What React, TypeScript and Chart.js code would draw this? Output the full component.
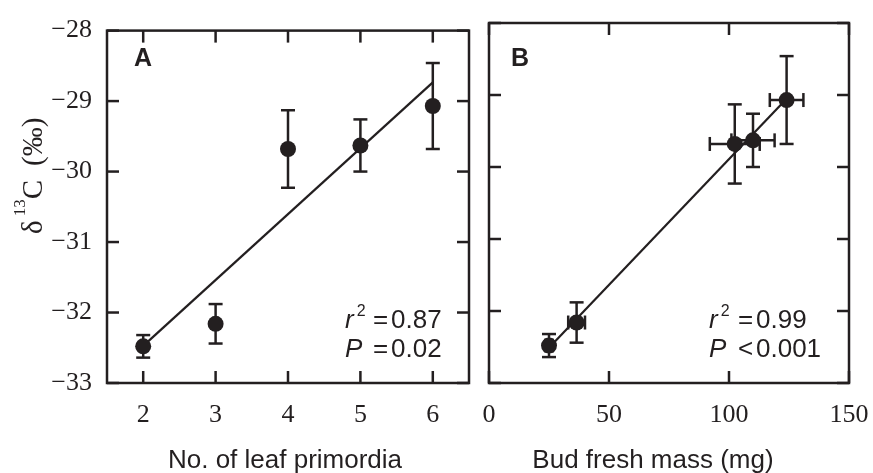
import React, { useEffect, useRef } from 'react';
import { Chart, registerables } from 'chart.js';

Chart.register(...registerables);

// ---- data ----
const leafPrimordia = [2, 3, 4, 5, 6];
const budFreshMass = [25, 36.5, 102.4, 110, 124];
const budFreshMassErr = [1.5, 3.5, 10.4, 9, 7];
const delta13C = [-32.48, -32.16, -29.68, -29.63, -29.07];
const delta13CErr = [0.16, 0.28, 0.55, 0.37, 0.61];

const leafTicks = [2, 3, 4, 5, 6];
const massTicks = [0, 50, 100, 150];
const deltaTicks = [-33, -32, -31, -30, -29, -28];

const statsA = { r2: '0.87', op: '=', p: '0.02' };
const statsB = { r2: '0.99', op: '<', p: '0.001' };

const INK = '#231f20';
const SERIF = "'Liberation Serif', 'Times New Roman', serif";
const SANS = "'Liberation Sans', Arial, Helvetica, sans-serif";

function fmt(v: number) {
  return v < 0 ? '\u2212' + Math.abs(v) : String(v);
}

function linFit(xs: number[], ys: number[]) {
  const n = xs.length;
  const mx = xs.reduce((a, b) => a + b, 0) / n;
  const my = ys.reduce((a, b) => a + b, 0) / n;
  let sxy = 0, sxx = 0;
  for (let i = 0; i < n; i++) {
    sxy += (xs[i] - mx) * (ys[i] - my);
    sxx += (xs[i] - mx) * (xs[i] - mx);
  }
  const b = sxy / sxx;
  const a = my - b * mx;
  const x0 = Math.min(...xs), x1 = Math.max(...xs);
  return [ { x: x0, y: a + b * x0 }, { x: x1, y: a + b * x1 } ];
}

function makeErrorBars(xs: number[], ys: number[], xErr: number[] | null, yErr: number[] | null) {
  return {
    id: 'errorBars',
    beforeDatasetsDraw(chart: any) {
      const { ctx } = chart;
      const x = chart.scales.x, y = chart.scales.y;
      const cap = 7;
      ctx.save();
      ctx.strokeStyle = INK;
      ctx.lineWidth = 2.5;
      const seg = (x1: number, y1: number, x2: number, y2: number) => {
        ctx.beginPath(); ctx.moveTo(x1, y1); ctx.lineTo(x2, y2); ctx.stroke();
      };
      for (let i = 0; i < xs.length; i++) {
        const px = x.getPixelForValue(xs[i]);
        const py = y.getPixelForValue(ys[i]);
        if (yErr) {
          const t = y.getPixelForValue(ys[i] + yErr[i]);
          const b = y.getPixelForValue(ys[i] - yErr[i]);
          seg(px, t, px, b);
          seg(px - cap, t, px + cap, t);
          seg(px - cap, b, px + cap, b);
        }
        if (xErr) {
          const l = x.getPixelForValue(xs[i] - xErr[i]);
          const r = x.getPixelForValue(xs[i] + xErr[i]);
          seg(l, py, r, py);
          seg(l, py - cap, l, py + cap);
          seg(r, py - cap, r, py + cap);
        }
      }
      ctx.restore();
    },
  };
}

const framePlugin = {
  id: 'frame',
  afterDatasetsDraw(chart: any) {
    const { ctx, chartArea: a } = chart;
    const x = chart.scales.x, y = chart.scales.y;
    const tl = 12;
    ctx.save();
    ctx.strokeStyle = INK;
    ctx.lineWidth = 2.5;
    ctx.strokeRect(a.left, a.top, a.right - a.left, a.bottom - a.top);
    const seg = (x1: number, y1: number, x2: number, y2: number) => {
      ctx.beginPath(); ctx.moveTo(x1, y1); ctx.lineTo(x2, y2); ctx.stroke();
    };
    x.ticks.forEach((t: any) => {
      const px = x.getPixelForValue(t.value);
      seg(px, a.bottom, px, a.bottom - tl);
      seg(px, a.top, px, a.top + tl);
    });
    y.ticks.forEach((t: any) => {
      const py = y.getPixelForValue(t.value);
      seg(a.left, py, a.left + tl, py);
      seg(a.right, py, a.right - tl, py);
    });
    ctx.restore();
  },
};

type Run = { text: string; font: string; dy?: number; dx?: number };
type TextItem = { x: number; y: number; runs: Run[]; align?: 'left' | 'center'; rotate?: boolean };

function makeTexts(items: TextItem[]) {
  return {
    id: 'texts',
    afterDraw(chart: any) {
      const ctx = chart.ctx;
      ctx.save();
      ctx.fillStyle = INK;
      ctx.textBaseline = 'alphabetic';
      ctx.textAlign = 'left';
      items.forEach((it) => {
        let total = 0;
        it.runs.forEach((r) => {
          ctx.font = r.font;
          total += (r.dx || 0) + ctx.measureText(r.text).width;
        });
        ctx.save();
        ctx.translate(it.x, it.y);
        if (it.rotate) ctx.rotate(-Math.PI / 2);
        let cx = it.align === 'center' ? -total / 2 : 0;
        it.runs.forEach((r) => {
          ctx.font = r.font;
          cx += r.dx || 0;
          ctx.fillText(r.text, cx, r.dy || 0);
          cx += ctx.measureText(r.text).width;
        });
        ctx.restore();
      });
      ctx.restore();
    },
  };
}

function buildChart(canvas: HTMLCanvasElement, p: any) {
  const points = p.xs.map((v: number, i: number) => ({ x: v, y: delta13C[i] }));
  return new Chart(canvas, {
    type: 'scatter',
    data: {
      datasets: [
        {
          data: points,
          pointRadius: 8,
          pointHoverRadius: 8,
          pointBackgroundColor: INK,
          pointBorderWidth: 0,
          showLine: false,
        } as any,
        {
          type: 'line',
          data: linFit(p.xs, delta13C),
          borderColor: INK,
          borderWidth: 2.2,
          pointRadius: 0,
          fill: false,
        } as any,
      ],
    },
    options: {
      responsive: false,
      animation: false,
      events: [],
      layout: { padding: { left: 0, top: 23, right: p.padRight, bottom: 0 } },
      plugins: { legend: { display: false }, tooltip: { enabled: false } },
      scales: {
        x: {
          type: 'linear',
          min: p.xMin,
          max: p.xMax,
          grid: { display: false, drawTicks: false },
          border: { display: false },
          afterBuildTicks: (s: any) => { s.ticks = p.xTicks.map((v: number) => ({ value: v })); },
          afterFit: (s: any) => { s.height = 90; },
          ticks: {
            color: INK,
            font: { family: SERIF, size: 26 },
            padding: 17,
            maxRotation: 0,
            autoSkip: false,
            callback: (v: any) => fmt(Number(v)),
          },
        },
        y: {
          type: 'linear',
          min: -33,
          max: -28,
          grid: { display: false, drawTicks: false },
          border: { display: false },
          afterBuildTicks: (s: any) => { s.ticks = deltaTicks.map((v) => ({ value: v })); },
          afterFit: (s: any) => { s.width = p.yWidth; },
          ticks: {
            display: p.yLabels,
            color: INK,
            font: { family: SERIF, size: 26 },
            padding: 15,
            autoSkip: false,
            callback: (v: any) => fmt(Number(v)),
          },
        },
      },
    } as any,
    plugins: [makeErrorBars(p.xs, delta13C, p.xErr, delta13CErr), framePlugin, makeTexts(p.texts)],
  });
}

function statTexts(s: any, px: number, eqX: number, numX: number, letter: string, lx: number): TextItem[] {
  const f = `26px ${SANS}`;
  const fi = `italic 26px ${SANS}`;
  return [
    { x: lx, y: 66, runs: [{ text: letter, font: `bold 25px ${SANS}` }] },
    { x: px, y: 328, runs: [{ text: 'r', font: fi }, { text: '2', font: `16px ${SANS}`, dy: -12, dx: 3 }] },
    { x: eqX, y: 328, runs: [{ text: '=', font: f }] },
    { x: numX, y: 328, runs: [{ text: s.r2, font: f }] },
    { x: px, y: 357, runs: [{ text: 'P', font: fi }] },
    { x: eqX, y: 357, runs: [{ text: s.op, font: f }] },
    { x: numX, y: 357, runs: [{ text: s.p, font: f }] },
  ];
}

const RIGHT_LEFT = 459;

export default function App() {
  const leftRef = useRef<HTMLCanvasElement>(null);
  const rightRef = useRef<HTMLCanvasElement>(null);

  useEffect(() => {
    const leftTexts: TextItem[] = [
      ...statTexts(statsA, 345, 373, 391, 'A', 134),
      { x: 285, y: 468, align: 'center', runs: [{ text: 'No. of leaf primordia', font: `26px ${SANS}` }] },
      {
        x: 42, y: 234, rotate: true,
        runs: [
          { text: '\u03b4', font: `29px ${SERIF}` },
          { text: '13', font: `17px ${SERIF}`, dy: -17, dx: 4 },
          { text: 'C', font: `29px ${SERIF}` },
          { text: '(\u2030)', font: `29px ${SERIF}`, dx: 14 },
        ],
      },
    ];
    const off = RIGHT_LEFT;
    const rightTexts: TextItem[] = [
      ...statTexts(statsB, 709 - off, 738 - off, 756 - off, 'B', 511 - off),
      { x: 653 - off, y: 468, align: 'center', runs: [{ text: 'Bud fresh mass (mg)', font: `26px ${SANS}` }] },
    ];

    const c1 = buildChart(leftRef.current!, {
      xs: leafPrimordia, xErr: null, xMin: 1.5, xMax: 6.5, xTicks: leafTicks,
      yWidth: 107, yLabels: true, padRight: 11, texts: leftTexts,
    });
    const c2 = buildChart(rightRef.current!, {
      xs: budFreshMass, xErr: budFreshMassErr, xMin: 0, xMax: 150, xTicks: massTicks,
      yWidth: 489 - RIGHT_LEFT, yLabels: false, padRight: 40, texts: rightTexts,
    });
    return () => { c1.destroy(); c2.destroy(); };
  }, []);

  return (
    <div style={{ position: 'absolute', left: 0, top: 0, width: 873, height: 473, background: '#fff', overflow: 'hidden' }}>
      <canvas ref={leftRef} width={480} height={473} style={{ position: 'absolute', left: 0, top: 0 }} />
      <canvas ref={rightRef} width={849 - RIGHT_LEFT + 40} height={473} style={{ position: 'absolute', left: RIGHT_LEFT, top: 0 }} />
    </div>
  );
}
